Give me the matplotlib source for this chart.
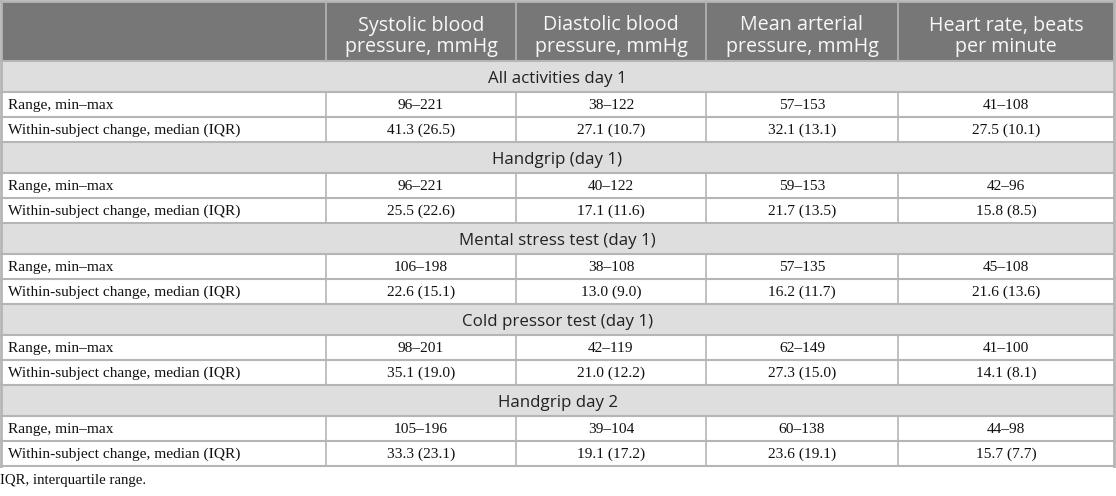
import matplotlib.pyplot as plt
from matplotlib.patches import Rectangle

# table content
col_headers = [("Systolic blood", "pressure, mmHg"), ("Diastolic blood", "pressure, mmHg"),
               ("Mean arterial", "pressure, mmHg"), ("Heart rate, beats", "per minute")]
sections = ["All activities day 1", "Handgrip (day 1)", "Mental stress test (day 1)",
            "Cold pressor test (day 1)", "Handgrip day 2"]
row_labels = ["Range, min\u2013max", "Within-subject change, median (IQR)"]
ranges = [
    ["96\u2013221", "38\u2013122", "57\u2013153", "41\u2013108"],
    ["96\u2013221", "40\u2013122", "59\u2013153", "42\u201396"],
    ["106\u2013198", "38\u2013108", "57\u2013135", "45\u2013108"],
    ["98\u2013201", "42\u2013119", "62\u2013149", "41\u2013100"],
    ["105\u2013196", "39\u2013104", "60\u2013138", "44\u201398"],
]
changes = [
    ["41.3 (26.5)", "27.1 (10.7)", "32.1 (13.1)", "27.5 (10.1)"],
    ["25.5 (22.6)", "17.1 (11.6)", "21.7 (13.5)", "15.8 (8.5)"],
    ["22.6 (15.1)", "13.0 (9.0)", "16.2 (11.7)", "21.6 (13.6)"],
    ["35.1 (19.0)", "21.0 (12.2)", "27.3 (15.0)", "14.1 (8.1)"],
    ["33.3 (23.1)", "19.1 (17.2)", "23.6 (19.1)", "15.7 (7.7)"],
]
footnote = "IQR, interquartile range."

W, H = 1116, 496
col_x = [1, 326, 516, 706, 898, 1114]
header_h = 61
sec_h = 31
row_h = 25

border = "#b5b5b5"
head_bg = "#777777"
sec_bg = "#dedede"
sans = "Open Sans"
serif = "Liberation Serif"

fig = plt.figure(figsize=(W / 100, H / 100), dpi=100)
ax = fig.add_axes([0, 0, 1, 1])
ax.set_xlim(0, W)
ax.set_ylim(H, 0)
ax.axis("off")

left, right = col_x[0], col_x[-1]

# header
ax.add_patch(Rectangle((left, 1), right - left, header_h - 1, facecolor=head_bg, edgecolor="none"))
for i, (l1, l2) in enumerate(col_headers):
    cx = (col_x[i + 1] + col_x[i + 2]) / 2
    ax.text(cx, 30.5, l1, ha="center", va="baseline", color="#f8f8f8", fontsize=14.2, family=sans)
    ax.text(cx, 52, l2, ha="center", va="baseline", color="#f8f8f8", fontsize=14.2, family=sans)
for x in col_x[1:-1]:
    ax.plot([x, x], [1, header_h], color=border, lw=1.2)

y = header_h
for s, name in enumerate(sections):
    ax.add_patch(Rectangle((left, y), right - left, sec_h, facecolor=sec_bg, edgecolor="none"))
    ax.text((left + right) / 2, y + 22, name, ha="center", va="baseline",
            color="#222222", fontsize=12.2, family=sans)
    ax.plot([left, right], [y, y], color=border, lw=1.5)
    y += sec_h
    for r, vals in enumerate([ranges[s], changes[s]]):
        ax.plot([left, right], [y, y], color=border, lw=1.5)
        ax.text(8, y + 16.8, row_labels[r], ha="left", va="baseline",
                color="#111111", fontsize=11.1, family=serif)
        for i, v in enumerate(vals):
            cx = (col_x[i + 1] + col_x[i + 2]) / 2
            ax.text(cx, y + 16.8, v, ha="center", va="baseline",
                    color="#111111", fontsize=11.1, family=serif)
        for x in col_x[1:-1]:
            ax.plot([x, x], [y, y + row_h], color=border, lw=1.2)
        y += row_h
ax.plot([left, right], [y, y], color=border, lw=1.5)

# outer border
ax.plot([left, left], [1, y], color=border, lw=2)
ax.plot([right, right], [1, y], color=border, lw=2)
ax.plot([left, right], [1, 1], color=border, lw=2)

ax.text(0, y + 18, footnote, ha="left", va="baseline", color="#111111",
        fontsize=10.7, family=serif)

fig.savefig("out.png", dpi=100)
